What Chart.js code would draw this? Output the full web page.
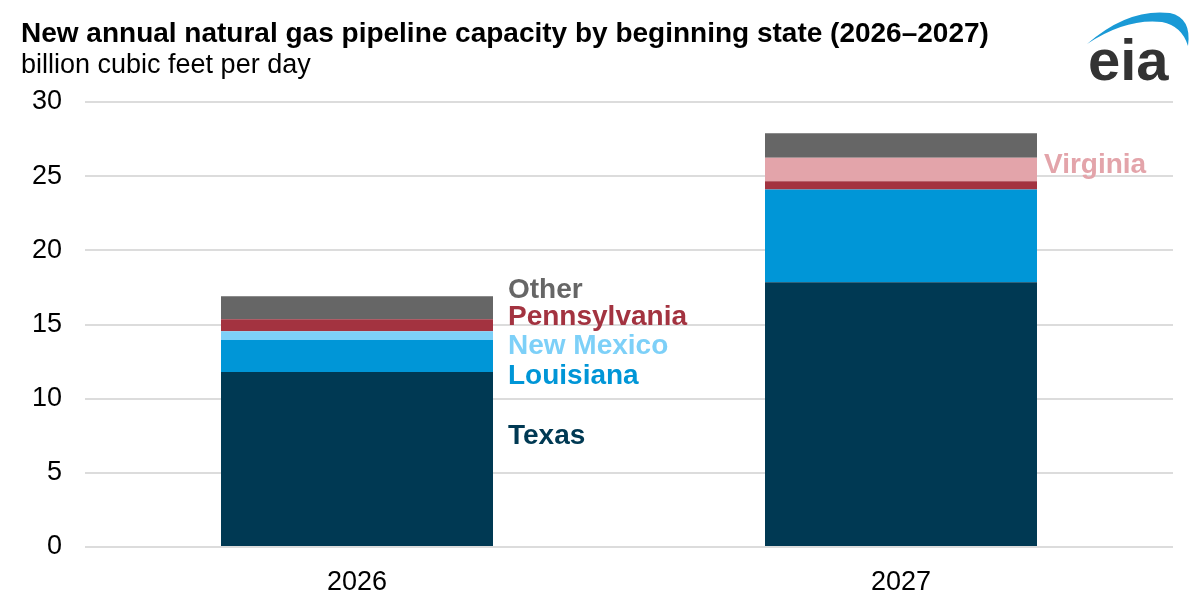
<!DOCTYPE html>
<html lang="en">
<head>
  <meta charset="UTF-8"/>
  <title>New annual natural gas pipeline capacity by beginning state</title>
  <script src="https://cdn.jsdelivr.net/npm/chart.js"></script>
  <style>
    body {
      margin: 0;
      background: #fff;
      font-family: 'Liberation Sans', Arial, sans-serif;
    }
    .wrap {
      position: relative;
      width: 1200px;
      height: 599px;
      overflow: hidden;
    }
    .wrap canvas {
      position: absolute;
      left: 0;
      top: 0;
    }
    .title {
      position: absolute;
      left: 21px;
      top: 17px;
      font-size: 28px;
      font-weight: bold;
      color: #000;
      white-space: nowrap;
    }
    .subtitle {
      position: absolute;
      left: 21px;
      top: 49px;
      font-size: 27px;
      color: #000;
      white-space: nowrap;
    }
    .logo {
      position: absolute;
      left: 1070px;
      top: 0;
    }
  </style>
</head>
<body>
  <div class="wrap">
    <canvas id="capacityChart" width="1200" height="599"></canvas>
    <div class="title">New annual natural gas pipeline capacity by beginning state (2026–2027)</div>
    <div class="subtitle">billion cubic feet per day</div>
    <svg class="logo" width="130" height="100" viewBox="1070 0 130 100">
      <path d="M1087,44 Q1128,8 1170,13 Q1192,18 1188,46 Q1182,26 1162,22 Q1126,18 1087,44 Z" fill="#1a9ad6"/>
      <text x="1088" y="80" font-family="Liberation Sans, Arial, sans-serif" font-weight="bold" font-size="58" fill="#333333">eia</text>
    </svg>
  </div>

  <script>
    const years = ['2026', '2027'];

    // billion cubic feet per day
    const texas = [11.8, 17.85];
    const louisiana = [2.15, 6.25];
    const newMexico = [0.6, 0];
    const pennsylvania = [0.8, 0.55];
    const virginia = [0, 1.6];
    const other = [1.55, 1.65];

    const yTicks = [0, 5, 10, 15, 20, 25, 30];

    const colors = {
      texas: '#003953',
      louisiana: '#0096d7',
      newMexico: '#7dd0f8',
      pennsylvania: '#a33340',
      virginia: '#e3a4aa',
      other: '#666666'
    };

    // direct labels next to the bars: dataset index, bar index, height on y axis, gap from bar
    const directLabels = [
      { text: 'Texas', ds: 0, bar: 0, at: 7.45, gap: 15, color: colors.texas },
      { text: 'Louisiana', ds: 1, bar: 0, at: 11.5, gap: 15, color: colors.louisiana },
      { text: 'New Mexico', ds: 2, bar: 0, at: 13.5, gap: 15, color: colors.newMexico },
      { text: 'Pennsylvania', ds: 3, bar: 0, at: 15.5, gap: 15, color: colors.pennsylvania },
      { text: 'Other', ds: 5, bar: 0, at: 17.3, gap: 15, color: colors.other },
      { text: 'Virginia', ds: 4, bar: 1, at: 25.75, gap: 7, color: colors.virginia }
    ];

    const FONT = "'Liberation Sans', Arial, sans-serif";

    const labelPlugin = {
      id: 'directLabels',
      afterDatasetsDraw(chart) {
        const ctx = chart.ctx;
        const y = chart.scales.y;
        ctx.save();
        ctx.font = 'bold 28px ' + FONT;
        ctx.textAlign = 'left';
        ctx.textBaseline = 'middle';
        directLabels.forEach(l => {
          const bar = chart.getDatasetMeta(l.ds).data[l.bar];
          ctx.fillStyle = l.color;
          ctx.fillText(l.text, bar.x + bar.width / 2 + l.gap, y.getPixelForValue(l.at));
        });
        ctx.restore();
      }
    };

    function series(label, data, color) {
      return {
        label,
        data,
        backgroundColor: color,
        borderWidth: 0,
        categoryPercentage: 1,
        barPercentage: 0.5
      };
    }

    new Chart(document.getElementById('capacityChart'), {
      type: 'bar',
      data: {
        labels: years,
        datasets: [
          series('Texas', texas, colors.texas),
          series('Louisiana', louisiana, colors.louisiana),
          series('New Mexico', newMexico, colors.newMexico),
          series('Pennsylvania', pennsylvania, colors.pennsylvania),
          series('Virginia', virginia, colors.virginia),
          series('Other', other, colors.other)
        ]
      },
      options: {
        responsive: false,
        animation: false,
        layout: {
          padding: { top: 102, right: 27, bottom: 0, left: 0 }
        },
        plugins: {
          legend: { display: false },
          tooltip: { enabled: false }
        },
        scales: {
          x: {
            stacked: true,
            grid: { display: false },
            border: { display: false },
            ticks: {
              color: '#000',
              padding: 11,
              font: { family: FONT, size: 27 }
            },
            afterFit(scale) { scale.height = 52; }
          },
          y: {
            stacked: true,
            min: 0,
            max: 30,
            afterBuildTicks(scale) {
              scale.ticks = yTicks.map(v => ({ value: v }));
            },
            grid: {
              color: '#dcdcdc',
              lineWidth: 2,
              drawTicks: false
            },
            border: { display: false },
            ticks: {
              color: '#000',
              padding: 23,
              font: { family: FONT, size: 27 }
            },
            afterFit(scale) { scale.width = 85; }
          }
        }
      },
      plugins: [labelPlugin]
    });
  </script>
</body>
</html>
